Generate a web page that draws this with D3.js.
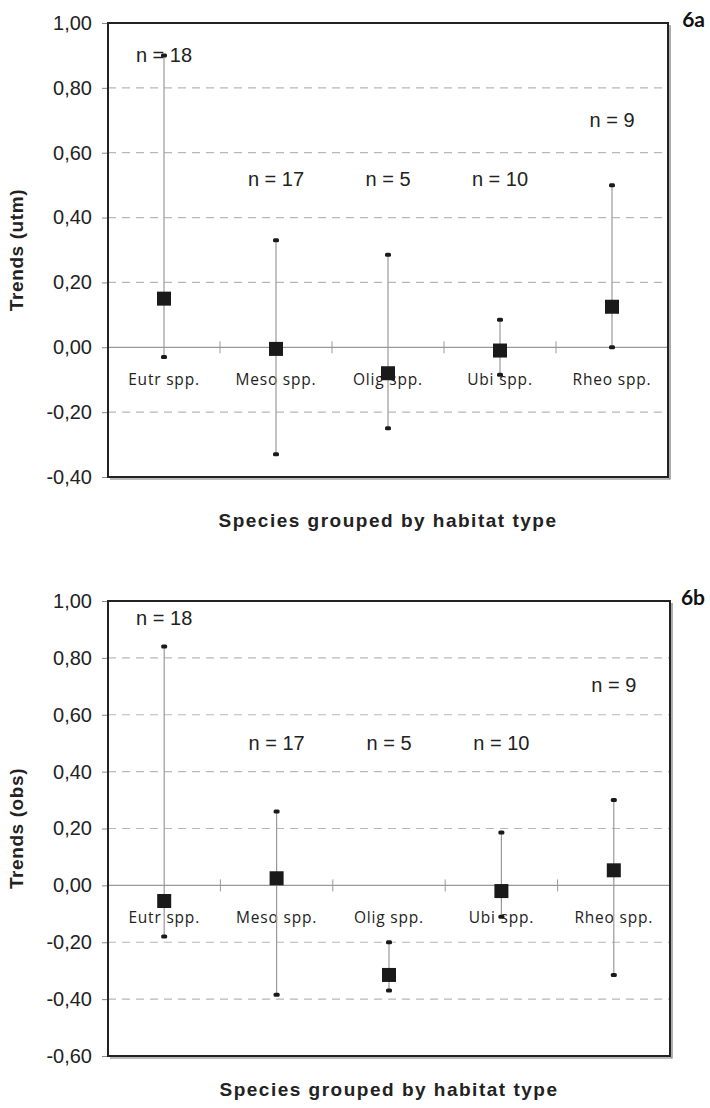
<!DOCTYPE html>
<html>
<head>
<meta charset="utf-8">
<script src="https://cdn.jsdelivr.net/npm/d3@7"></script>
<style>
  body { margin: 0; background: #fff; }
  svg { display: block; }
</style>
</head>
<body>
<div class="canvas"></div>
<script>
// data
const categories = ["Eutr spp.", "Meso spp.", "Olig spp.", "Ubi spp.", "Rheo spp."];
const nCounts = [18, 17, 5, 10, 9];

// 6a - trends (utm)
const utmMean = [0.15, -0.005, -0.08, -0.01, 0.125];
const utmHigh = [0.90, 0.33, 0.285, 0.085, 0.50];
const utmLow = [-0.03, -0.33, -0.25, -0.085, 0.00];
const utmTicks = [-0.4, -0.2, 0, 0.2, 0.4, 0.6, 0.8, 1.0];
const utmLabelAt = [0.90, 0.52, 0.52, 0.52, 0.70];

// 6b - trends (obs)
const obsMean = [-0.055, 0.025, -0.315, -0.02, 0.053];
const obsHigh = [0.84, 0.26, -0.20, 0.186, 0.30];
const obsLow = [-0.18, -0.385, -0.37, -0.11, -0.315];
const obsTicks = [-0.6, -0.4, -0.2, 0, 0.2, 0.4, 0.6, 0.8, 1.0];
const obsLabelAt = [0.94, 0.50, 0.50, 0.50, 0.705];

const W = 710, H = 1108;

const svg = d3.select('.canvas')
    .append('svg')
    .attr('width', W)
    .attr('height', H);

// comma decimals, plain hyphen minus
const fmt = d3.formatLocale({decimal: ",", thousands: ".", grouping: [3], currency: ["", ""], minus: "-"}).format(".2f");

const panels = [
    {tag: "6a", title: "Trends (utm)", mean: utmMean, high: utmHigh, low: utmLow,
     ticks: utmTicks, labelAt: utmLabelAt, top: 23, bottom: 477, left: 108, right: 668, xTitleY: 527},
    {tag: "6b", title: "Trends (obs)", mean: obsMean, high: obsHigh, low: obsLow,
     ticks: obsTicks, labelAt: obsLabelAt, top: 601, bottom: 1056, left: 108, right: 670, xTitleY: 1096}
];

const drawPanel = (p) => {
    const g = svg.append('g');

    const x = d3.scaleBand()
        .domain(categories)
        .range([p.left, p.right]);

    const y = d3.scaleLinear()
        .domain(d3.extent(p.ticks))
        .range([p.bottom, p.top]);

    const rows = categories.map((c, i) => ({
        cat: c, n: nCounts[i], mean: p.mean[i], high: p.high[i], low: p.low[i], lab: p.labelAt[i]
    }));

    //dashed gridlines
    g.selectAll('line.grid')
        .data(p.ticks.filter(t => t !== 0 && t !== p.ticks[0] && t !== p.ticks[p.ticks.length - 1]))
        .enter().append('line')
            .attr('class', 'grid')
            .attr('x1', p.left).attr('x2', p.right)
            .attr('y1', d => y(d)).attr('y2', d => y(d))
            .attr('stroke', '#b8b8b8')
            .attr('stroke-width', 1.2)
            .attr('stroke-dasharray', '8,6');

    //y axis (labels + little ticks)
    const yAxis = d3.axisLeft(y)
        .tickValues(p.ticks)
        .tickFormat(fmt)
        .tickSize(6)
        .tickPadding(10);

    const ax = g.append('g')
        .attr('transform', `translate(${p.left},0)`)
        .call(yAxis);
    ax.select('.domain').remove();
    ax.selectAll('line').attr('stroke', '#888');
    ax.selectAll('text')
        .attr('font-family', 'Liberation Sans, Arial, sans-serif')
        .attr('font-size', 20)
        .attr('fill', '#222');

    //zero line with category ticks
    g.append('line')
        .attr('x1', p.left).attr('x2', p.right)
        .attr('y1', y(0)).attr('y2', y(0))
        .attr('stroke', '#999')
        .attr('stroke-width', 1.2);

    g.selectAll('line.cattick')
        .data(categories.slice(1))
        .enter().append('line')
            .attr('class', 'cattick')
            .attr('x1', d => x(d)).attr('x2', d => x(d))
            .attr('y1', y(0) - 6).attr('y2', y(0) + 6)
            .attr('stroke', '#999');

    //category labels
    g.selectAll('text.cat')
        .data(categories)
        .enter().append('text')
            .attr('class', 'cat')
            .attr('x', d => x(d) + x.bandwidth() / 2)
            .attr('y', y(0) + 38)
            .attr('text-anchor', 'middle')
            .attr('font-family', 'Open Sans, sans-serif')
            .attr('font-size', 15.5)
            .attr('letter-spacing', 0.8)
            .attr('fill', '#222')
            .text(d => d);

    //n = labels
    g.selectAll('text.n')
        .data(rows)
        .enter().append('text')
            .attr('class', 'n')
            .attr('x', d => x(d.cat) + x.bandwidth() / 2)
            .attr('y', d => y(d.lab) + 7)
            .attr('text-anchor', 'middle')
            .attr('font-family', 'Liberation Sans, Arial, sans-serif')
            .attr('font-size', 20)
            .attr('fill', '#222')
            .text(d => `n = ${d.n}`);

    const cx = d => x(d.cat) + x.bandwidth() / 2;

    //whiskers
    g.selectAll('line.whisk')
        .data(rows)
        .enter().append('line')
            .attr('class', 'whisk')
            .attr('x1', cx).attr('x2', cx)
            .attr('y1', d => y(d.high)).attr('y2', d => y(d.low))
            .attr('stroke', '#999')
            .attr('stroke-width', 1.2);

    //caps
    const caps = rows.flatMap(d => [{cat: d.cat, v: d.high}, {cat: d.cat, v: d.low}]);
    g.selectAll('rect.cap')
        .data(caps)
        .enter().append('rect')
            .attr('class', 'cap')
            .attr('x', d => cx(d) - 3)
            .attr('y', d => y(d.v) - 2)
            .attr('width', 6).attr('height', 4)
            .attr('rx', 1.5)
            .attr('fill', '#1a1a1a');

    //mean squares
    g.selectAll('rect.mean')
        .data(rows)
        .enter().append('rect')
            .attr('class', 'mean')
            .attr('x', d => cx(d) - 7)
            .attr('y', d => y(d.mean) - 7)
            .attr('width', 14).attr('height', 14)
            .attr('fill', '#1a1a1a');

    //frame + slight shadow on right and bottom
    g.append('rect')
        .attr('x', p.left).attr('y', p.top)
        .attr('width', p.right - p.left).attr('height', p.bottom - p.top)
        .attr('fill', 'none')
        .attr('stroke', '#222')
        .attr('stroke-width', 2);
    g.append('path')
        .attr('d', `M${p.right + 2},${p.top + 2}V${p.bottom + 2}H${p.left + 2}`)
        .attr('fill', 'none')
        .attr('stroke', '#777')
        .attr('stroke-width', 1.2);

    //axis titles
    g.append('text')
        .attr('transform', `translate(23,${(p.top + p.bottom) / 2}) rotate(-90)`)
        .attr('text-anchor', 'middle')
        .attr('font-family', 'Liberation Sans, Arial, sans-serif')
        .attr('font-weight', 'bold')
        .attr('font-size', 19)
        .attr('letter-spacing', 0.6)
        .attr('fill', '#222')
        .text(p.title);

    g.append('text')
        .attr('x', (p.left + p.right) / 2)
        .attr('y', p.xTitleY)
        .attr('text-anchor', 'middle')
        .attr('font-family', 'Liberation Sans, Arial, sans-serif')
        .attr('font-weight', 'bold')
        .attr('font-size', 19)
        .attr('letter-spacing', 1.5)
        .attr('fill', '#222')
        .text('Species grouped by habitat type');

    //panel tag
    g.append('text')
        .attr('x', 705)
        .attr('y', p.top + 4)
        .attr('text-anchor', 'end')
        .attr('font-family', 'Lato, sans-serif')
        .attr('font-weight', 'bold')
        .attr('font-size', 21)
        .attr('fill', '#111')
        .text(p.tag);
};

panels.forEach(drawPanel);
</script>
</body>
</html>
